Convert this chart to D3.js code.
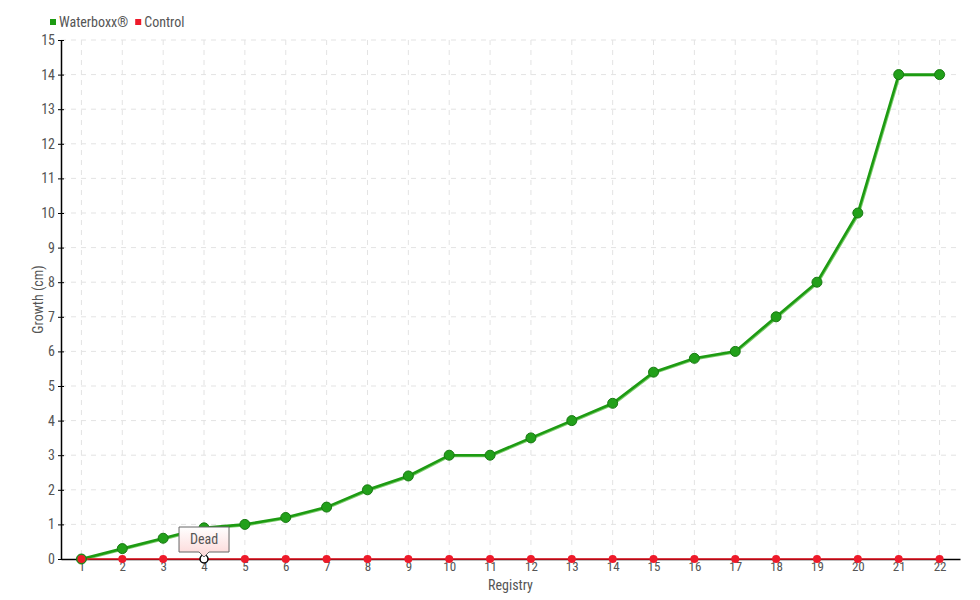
<!DOCTYPE html>
<html><head><meta charset="utf-8">
<script src="https://cdn.jsdelivr.net/npm/d3@7"></script>
<style>
body{margin:0;background:#fff;}
svg text{font-family:"Liberation Sans Narrow","Roboto Condensed","DejaVu Sans Condensed",sans-serif;fill:#555;}
</style></head>
<body><svg id="c" width="980" height="600"></svg>
<script>
const registry = d3.range(1, 23).map(String);
const waterboxx = [0, 0.3, 0.6, 0.9, 1.0, 1.2, 1.5, 2.0, 2.4, 3.0, 3.0, 3.5, 4.0, 4.5, 5.4, 5.8, 6.0, 7.0, 8.0, 10.0, 14.0, 14.0];
const control = [0,0,0,0,0,0,0,0,0,0,0,0,0,0,0,0,0,0,0,0,0,0];
const yTicks = d3.range(0, 16);
const seriesNames = ["Waterboxx®", "Control"];
const tooltipText = "Dead";
const tooltipIndex = 3;

const svg = d3.select("#c");
const L = 61, R = 960, T = 40, B = 559;
const x = d3.scalePoint().domain(registry).range([L, R]).padding(0.5);
const y = d3.scaleLinear().domain([0, 15]).range([B, T]);

// grid
const g = svg.append("g");
g.selectAll("line.h").data(yTicks.slice(1)).join("line")
  .attr("x1", L).attr("x2", R).attr("y1", d => y(d)).attr("y2", d => y(d))
  .attr("stroke", "#e3e3e3").attr("stroke-dasharray", "5,5");
g.selectAll("line.v").data(registry).join("line")
  .attr("x1", d => x(d)).attr("x2", d => x(d)).attr("y1", T).attr("y2", B)
  .attr("stroke", "#e3e3e3").attr("stroke-dasharray", "5,5");

// axes
const ya = svg.append("g").attr("transform", `translate(${L},0)`)
  .call(d3.axisLeft(y).tickValues(yTicks).tickFormat(d3.format("d")).tickSizeInner(3).tickSizeOuter(0));
ya.select(".domain").attr("stroke", "#000").attr("stroke-width", 1.5);
ya.selectAll(".tick line").attr("stroke", "#000").attr("x1", 3).attr("x2", -3);
ya.selectAll(".tick text").attr("x", -6).style("font-size", "14px").attr("fill", "#555");

const xa = svg.append("g").attr("transform", `translate(0,${B})`)
  .call(d3.axisBottom(x).tickSizeInner(3).tickSizeOuter(0));
xa.select(".domain").attr("stroke", "#000").attr("stroke-width", 1.5);
xa.selectAll(".tick line").attr("stroke", "#000");
xa.selectAll(".tick text").attr("y", 3).style("font-size", "13px").attr("fill", "#555");

svg.append("text").attr("x", (L + R) / 2).attr("y", 590).attr("text-anchor", "middle")
  .style("font-size", "14px").text("Registry");
svg.append("text").attr("transform", `translate(43,${(T + B) / 2}) rotate(-90)`)
  .attr("text-anchor", "middle").style("font-size", "14px").text("Growth (cm)");

// lines
const line = d3.line().x((d, i) => x(registry[i])).y(d => y(d));
svg.append("path").datum(waterboxx).attr("d", line).attr("fill", "none")
  .attr("stroke", "#7ccc6c").attr("stroke-width", 2).attr("transform", "translate(1,1)");
svg.append("path").datum(waterboxx).attr("d", line).attr("fill", "none")
  .attr("stroke", "#1d9b12").attr("stroke-width", 2.6);
svg.append("path").datum(control).attr("d", line).attr("fill", "none")
  .attr("stroke", "#e8101e").attr("stroke-width", 1.5);

svg.append("g").selectAll("circle").data(waterboxx).join("circle")
  .attr("cx", (d, i) => x(registry[i])).attr("cy", d => y(d)).attr("r", 5)
  .attr("fill", "#22a01a").attr("stroke", "#187a12").attr("stroke-width", 1);
svg.append("g").selectAll("circle").data(control).join("circle")
  .attr("cx", (d, i) => x(registry[i])).attr("cy", d => y(d)).attr("r", 4)
  .attr("fill", (d, i) => i === tooltipIndex ? "#fff" : "#ee1a2a")
  .attr("stroke", (d, i) => i === tooltipIndex ? "#000" : "none")
  .attr("stroke-width", 1.5);

// tooltip
const tx = x(registry[tooltipIndex]), ty = y(control[tooltipIndex]);
const defs = svg.append("defs");
const grad = defs.append("linearGradient").attr("id", "tg").attr("x1", 0).attr("x2", 0).attr("y1", 0).attr("y2", 1);
grad.append("stop").attr("offset", "0%").attr("stop-color", "#fff");
grad.append("stop").attr("offset", "100%").attr("stop-color", "#fcd6d6");
const bw = 50, bh = 25, boxTop = ty - 32;
const p = d3.path();
p.moveTo(tx - bw / 2, boxTop); p.lineTo(tx + bw / 2, boxTop); p.lineTo(tx + bw / 2, boxTop + bh);
p.lineTo(tx + 5, boxTop + bh); p.lineTo(tx, boxTop + bh + 5); p.lineTo(tx - 5, boxTop + bh); p.lineTo(tx - bw / 2, boxTop + bh); p.closePath();
svg.append("path").attr("d", p.toString()).attr("fill", "url(#tg)").attr("stroke", "#666").attr("stroke-width", 1);
svg.append("text").attr("x", tx).attr("y", boxTop + 17).attr("text-anchor", "middle")
  .style("font-size", "14px").text(tooltipText);

// legend
const colors = ["#1d9b12", "#ee1a2a"];
const leg = svg.append("g");
let lx = 50;
seriesNames.forEach((n, i) => {
  leg.append("rect").attr("x", lx).attr("y", 19).attr("width", 6).attr("height", 6).attr("fill", colors[i]);
  const t = leg.append("text").attr("x", lx + 9).attr("y", 27).style("font-size", "14px").text(n);
  lx += 9 + t.node().getComputedTextLength() + 7;
});
</script></body></html>
